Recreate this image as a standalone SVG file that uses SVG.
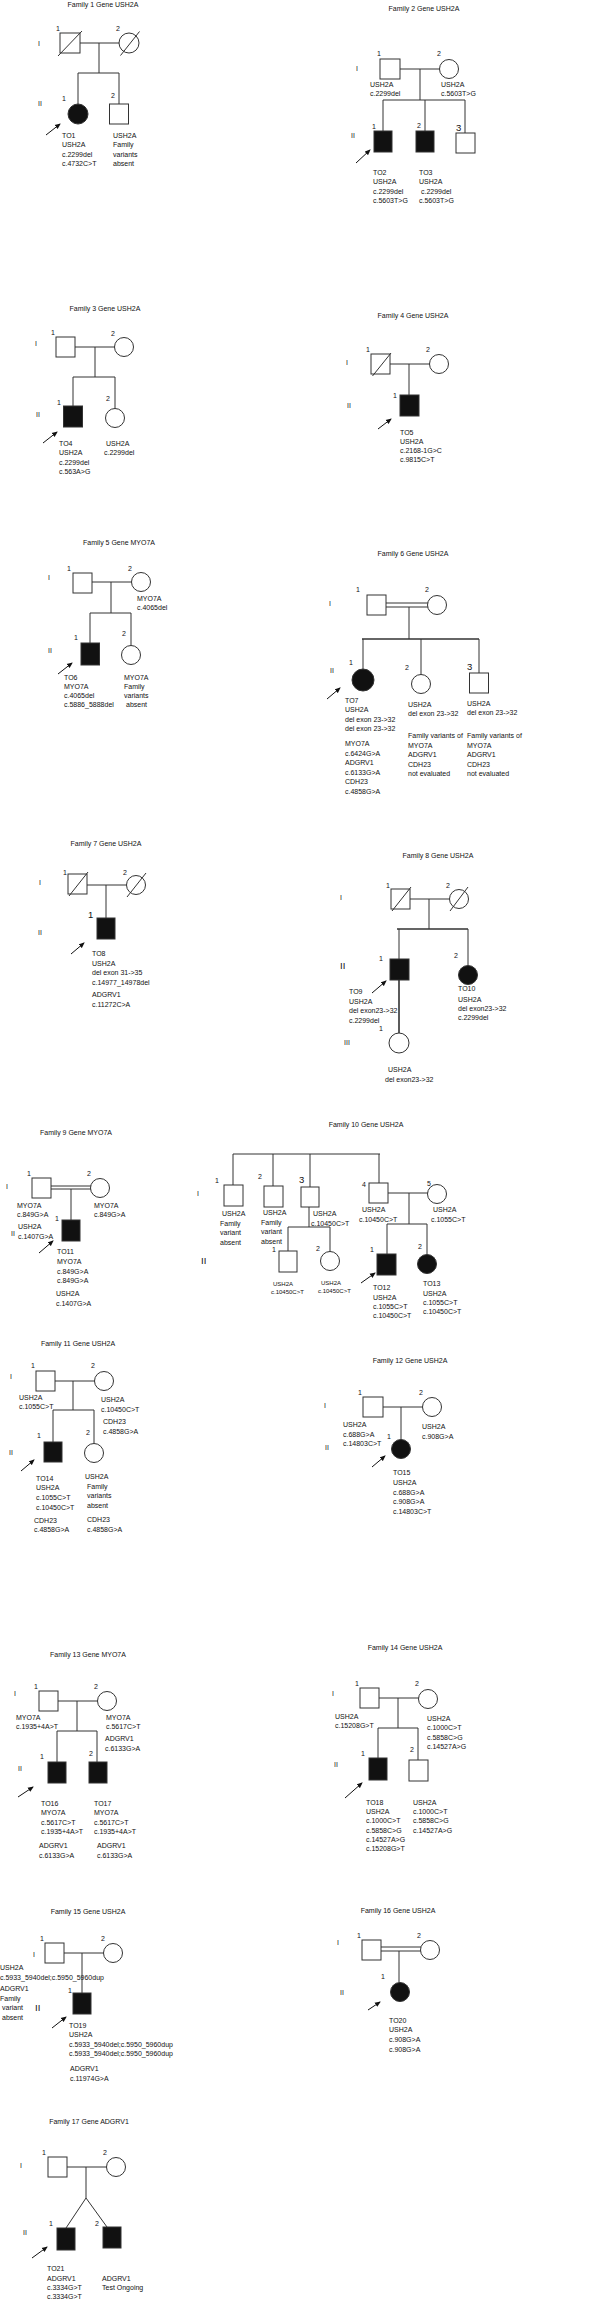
<svg xmlns="http://www.w3.org/2000/svg" width="589" height="2300" viewBox="0 0 589 2300">
<style>
.t{font-family:"Liberation Sans",Arial,sans-serif;font-size:7px;fill:#111}
.n{font-family:"Liberation Sans",Arial,sans-serif;font-size:7px;fill:#111}
.big{font-size:9.5px}
.ti{text-anchor:middle}
.ln{stroke:#333;stroke-width:1;fill:none}
.th{stroke:#333;stroke-width:1.6;fill:none}
.o{fill:#fff;stroke:#333;stroke-width:1}
.f{fill:#111;stroke:#333;stroke-width:1}
.ar{stroke:#111;stroke-width:1;marker-end:url(#ah)}
</style>
<defs>
<marker id="ah" markerWidth="6" markerHeight="6" refX="5" refY="3" orient="auto" markerUnits="userSpaceOnUse">
<path d="M0,0.5 L6,3 L0,5.5 z" fill="#111"/>
</marker>
</defs>
<rect width="589" height="2300" fill="#fff"/>

<g id="connectors">
<path class="ln" d="M80,43H120M99,43V73M78,73H119M78,73V104M119,73V104"/>
<path class="ln" d="M400,69H440M420,69V100M383,100H465M383,100V131M425,100V131M465,100V133"/>
<path class="ln" d="M75,347H115M95,347V377M73,377H115M73,377V406M115,377V408.5"/>
<path class="ln" d="M390,364H430M409,364V395"/>
<path class="ln" d="M92,582H132M111,582V613M90,613H131M90,613V643M131,613V645.5"/>
<path class="ln" d="M386,603H428M386,607H428M409,607V639M363,639V669M421,639V674.5M479,639V673"/>
<path class="th" d="M362,639H479"/>
<path class="ln" d="M87,885H127M106,885V918"/>
<path class="ln" d="M410,899H450M429,899V929M399,929V959M468,929V965.5"/>
<path class="th" d="M397,929H468M399,980V1033"/>
<path class="ln" d="M51,1186H91M51,1189H91M71,1189V1220"/>
<path class="ln" d="M233,1154H380M233,1154V1185M273,1154V1186M310,1154V1187M379,1154V1183M388,1193H428M409,1193V1224M387,1224H427M387,1224V1254M427,1224V1254.5M309,1207V1227M288,1227H330M288,1227V1251M330,1227V1251.5"/>
<path class="ln" d="M55,1381H95M73,1381V1410M53,1410H94M53,1410V1442M94,1410V1443.5"/>
<path class="ln" d="M383,1407H423M401,1407V1439.5"/>
<path class="ln" d="M58,1701H98M77,1701V1731M57,1731H97M57,1731V1762M97,1731V1762"/>
<path class="ln" d="M379,1698H419M398,1698V1728M378,1728H418M378,1728V1758M418,1728V1760"/>
<path class="ln" d="M64,1953H104M82,1953V1993"/>
<path class="ln" d="M381,1947H421M381,1951H421M399,1951V1982.5"/>
<path class="ln" d="M67,2167H107M86,2167V2198L66,2228M86,2198L107,2227"/>
<line class="ar" x1="46" y1="135" x2="60" y2="124"/>
<line class="ar" x1="356" y1="163" x2="370" y2="150"/>
<line class="ar" x1="43" y1="443" x2="57" y2="432"/>
<line class="ar" x1="378" y1="429" x2="391" y2="419"/>
<line class="ar" x1="58" y1="674" x2="72" y2="663"/>
<line class="ar" x1="327" y1="699" x2="340" y2="688"/>
<line class="ar" x1="71" y1="954" x2="84" y2="943"/>
<line class="ar" x1="372" y1="993" x2="386" y2="981"/>
<line class="ar" x1="39" y1="1253" x2="53" y2="1241"/>
<line class="ar" x1="361" y1="1283" x2="375" y2="1273"/>
<line class="ar" x1="21" y1="1471" x2="34" y2="1460"/>
<line class="ar" x1="372" y1="1467" x2="385" y2="1456"/>
<line class="ar" x1="18" y1="1797" x2="33" y2="1787"/>
<line class="ar" x1="345" y1="1798" x2="362" y2="1783"/>
<line class="ar" x1="52" y1="2028" x2="66" y2="2017"/>
<line class="ar" x1="368" y1="2010" x2="380" y2="2002"/>
<line class="ar" x1="32" y1="2258" x2="47" y2="2247"/>
</g>

<g id="family1">
<text class="t ti" x="103" y="7">Family  1 Gene USH2A</text>
<text class="t" x="38" y="45.5">I</text>
<text class="t" x="38" y="105.5">II</text>
<g id="f1-I1"><rect class="o" x="60" y="33" width="20" height="20"/><line class="ln" x1="58" y1="56" x2="82" y2="31"/><text class="n" x="56" y="30.5">1</text></g>
<g id="f1-I2"><circle class="o" cx="129" cy="43" r="10"/><line class="ln" x1="120.5" y1="55.5" x2="139.5" y2="31.5"/><text class="n" x="116" y="30.5">2</text></g>
<g id="f1-II1"><circle class="f" cx="78" cy="114" r="10"/><text class="n" x="62" y="100.5">1</text>
<text class="t"><tspan x="62" y="137.5">TO1</tspan><tspan x="62" y="147">USH2A</tspan><tspan x="62" y="156.5">c.2299del</tspan><tspan x="62" y="166">c.4732C&gt;T</tspan></text></g>
<g id="f1-II2"><rect class="o" x="109.5" y="104" width="19" height="20"/><text class="n" x="111" y="97.5">2</text>
<text class="t"><tspan x="113" y="137.5">USH2A</tspan><tspan x="113" y="147">Family</tspan><tspan x="113" y="156.5">variants</tspan><tspan x="113" y="166">absent</tspan></text></g>
</g>

<g id="family2">
<text class="t ti" x="424" y="11">Family  2 Gene  USH2A</text>
<text class="t" x="356" y="70.5">I</text>
<text class="t" x="351" y="137.5">II</text>
<g id="f2-I1"><rect class="o" x="380" y="59" width="20" height="20"/><text class="n" x="377" y="55.5">1</text>
<text class="t"><tspan x="370" y="86.5">USH2A</tspan><tspan x="370" y="96">c.2299del</tspan></text></g>
<g id="f2-I2"><circle class="o" cx="449" cy="69" r="9.5"/><text class="n" x="437" y="55.5">2</text>
<text class="t"><tspan x="441" y="86.5">USH2A</tspan><tspan x="441" y="96">c.5603T&gt;G</tspan></text></g>
<g id="f2-II1"><rect class="f" x="374" y="131" width="18" height="21"/><text class="n" x="372" y="128.5">1</text>
<text class="t"><tspan x="373" y="174.5">TO2</tspan><tspan x="373" y="184">USH2A</tspan><tspan x="373" y="193.5">c.2299del</tspan><tspan x="373" y="203">c.5603T&gt;G</tspan></text></g>
<g id="f2-II2"><rect class="f" x="416" y="131" width="18" height="21"/><text class="n" x="417" y="127.5">2</text>
<text class="t"><tspan x="419" y="174.5">TO3</tspan><tspan x="419" y="184">USH2A</tspan><tspan x="421" y="193.5">c.2299del</tspan><tspan x="419" y="203">c.5603T&gt;G</tspan></text></g>
<g id="f2-II3"><rect class="o" x="456" y="133" width="19" height="20"/><text class="n big" x="456" y="131">3</text></g>
</g>

<g id="family3">
<text class="t ti" x="105" y="310.5">Family  3  Gene USH2A</text>
<text class="t" x="35" y="345.5">I</text>
<text class="t" x="36" y="416.5">II</text>
<g id="f3-I1"><rect class="o" x="56" y="337" width="19" height="20"/><text class="n" x="51" y="334.5">1</text></g>
<g id="f3-I2"><circle class="o" cx="124" cy="347" r="9.5"/><text class="n" x="111" y="335.5">2</text></g>
<g id="f3-II1"><rect class="f" x="63.5" y="406" width="19" height="21"/><text class="n" x="57" y="404.5">1</text>
<text class="t"><tspan x="59" y="445.5">TO4</tspan><tspan x="59" y="455">USH2A</tspan><tspan x="59" y="464.5">c.2299del</tspan><tspan x="59" y="474">c.563A&gt;G</tspan></text></g>
<g id="f3-II2"><circle class="o" cx="115" cy="418" r="9.5"/><text class="n" x="106" y="400.5">2</text>
<text class="t"><tspan x="106" y="445.5">USH2A</tspan><tspan x="104" y="455">c.2299del</tspan></text></g>
</g>

<g id="family4">
<text class="t ti" x="413" y="317.5">Family 4  Gene USH2A</text>
<text class="t" x="346" y="364.5">I</text>
<text class="t" x="347" y="407.5">II</text>
<g id="f4-I1"><rect class="o" x="371" y="354" width="19" height="20"/><line class="ln" x1="372.5" y1="376" x2="391" y2="353"/><text class="n" x="366" y="351.5">1</text></g>
<g id="f4-I2"><circle class="o" cx="439" cy="364" r="9.5"/><text class="n" x="426" y="351.5">2</text></g>
<g id="f4-II1"><rect class="f" x="400" y="395" width="19" height="21"/><text class="n" x="393" y="397.5">1</text>
<text class="t"><tspan x="400" y="434.5">TO5</tspan><tspan x="400" y="443.5">USH2A</tspan><tspan x="400" y="452.5">c.2168-1G&gt;C</tspan><tspan x="400" y="461.5">c.9815C&gt;T</tspan></text></g>
</g>

<g id="family5">
<text class="t ti" x="119" y="544.5">Family  5 Gene MYO7A</text>
<text class="t" x="48" y="579.5">I</text>
<text class="t" x="48" y="652.5">II</text>
<g id="f5-I1"><rect class="o" x="73" y="573" width="19" height="20"/><text class="n" x="67" y="570.5">1</text></g>
<g id="f5-I2"><circle class="o" cx="141" cy="582" r="9.5"/><text class="n" x="128" y="570.5">2</text>
<text class="t"><tspan x="137" y="600.5">MYO7A</tspan><tspan x="137" y="609.5">c.4065del</tspan></text></g>
<g id="f5-II1"><rect class="f" x="81" y="643" width="18.5" height="22"/><text class="n" x="74" y="639.5">1</text>
<text class="t"><tspan x="64" y="679.5">TO6</tspan><tspan x="64" y="688.5">MYO7A</tspan><tspan x="64" y="697.5">c.4065del</tspan><tspan x="64" y="706.5">c.5886_5888del</tspan></text></g>
<g id="f5-II2"><circle class="o" cx="131" cy="655" r="9.5"/><text class="n" x="122" y="635.5">2</text>
<text class="t"><tspan x="124" y="679.5">MYO7A</tspan><tspan x="124" y="688.5">Family</tspan><tspan x="124" y="697.5">variants</tspan><tspan x="126" y="706.5">absent</tspan></text></g>
</g>

<g id="family6">
<text class="t ti" x="413" y="555.5">Family  6 Gene USH2A</text>
<text class="t" x="329" y="605.5">I</text>
<text class="t" x="330" y="672.5">II</text>
<g id="f6-I1"><rect class="o" x="367" y="595" width="19" height="20"/><text class="n" x="356" y="591.5">1</text></g>
<g id="f6-I2"><circle class="o" cx="437" cy="605" r="9.5"/><text class="n" x="425" y="591.5">2</text></g>
<g id="f6-II1"><circle class="f" cx="363" cy="680" r="11"/><text class="n" x="349" y="664.5">1</text>
<text class="t"><tspan x="345" y="702.5">TO7</tspan><tspan x="345" y="712">USH2A</tspan><tspan x="345" y="721.5">del exon 23-&gt;32</tspan><tspan x="345" y="731">del exon 23-&gt;32</tspan><tspan x="345" y="746">MYO7A</tspan><tspan x="345" y="755.5">c.6424G&gt;A</tspan><tspan x="345" y="765">ADGRV1</tspan><tspan x="345" y="774.5">c.6133G&gt;A</tspan><tspan x="345" y="784">CDH23</tspan><tspan x="345" y="793.5">c.4858G&gt;A</tspan></text></g>
<g id="f6-II2"><circle class="o" cx="421" cy="684" r="9.5"/><text class="n" x="405" y="669.5">2</text>
<text class="t"><tspan x="408" y="706.5">USH2A</tspan><tspan x="408" y="716">del exon 23-&gt;32</tspan><tspan x="408" y="738">Family variants of</tspan><tspan x="408" y="747.5">MYO7A</tspan><tspan x="408" y="757">ADGRV1</tspan><tspan x="408" y="766.5">CDH23</tspan><tspan x="408" y="776">not evaluated</tspan></text></g>
<g id="f6-II3"><rect class="o" x="469.5" y="673" width="19" height="20"/><text class="n big" x="467" y="670">3</text>
<text class="t"><tspan x="467" y="705.5">USH2A</tspan><tspan x="467" y="715">del exon 23-&gt;32</tspan><tspan x="467" y="738">Family variants of</tspan><tspan x="467" y="747.5">MYO7A</tspan><tspan x="467" y="757">ADGRV1</tspan><tspan x="467" y="766.5">CDH23</tspan><tspan x="467" y="776">not evaluated</tspan></text></g>
</g>

<g id="family7">
<text class="t ti" x="106" y="845.5">Family  7 Gene USH2A</text>
<text class="t" x="39" y="884.5">I</text>
<text class="t" x="38" y="934.5">II</text>
<g id="f7-I1"><rect class="o" x="68" y="874" width="19" height="20"/><line class="ln" x1="69" y1="896" x2="88" y2="872"/><text class="n" x="63" y="874.5">1</text></g>
<g id="f7-I2"><circle class="o" cx="136" cy="885" r="9.5"/><line class="ln" x1="127" y1="897" x2="146" y2="873"/><text class="n" x="123" y="874.5">2</text></g>
<g id="f7-II1"><rect class="f" x="97" y="918" width="18" height="21"/><text class="n big" x="88" y="918">1</text>
<text class="t"><tspan x="92" y="955.5">TO8</tspan><tspan x="92" y="965.5">USH2A</tspan><tspan x="92" y="975">del exon 31-&gt;35</tspan><tspan x="92" y="984.5">c.14977_14978del</tspan><tspan x="92" y="996.5">ADGRV1</tspan><tspan x="92" y="1006.5">c.11272C&gt;A</tspan></text></g>
</g>

<g id="family8">
<text class="t ti" x="438" y="857.5">Family 8 Gene USH2A</text>
<text class="t" x="340" y="899.5">I</text>
<text class="t big" x="340" y="968.5">II</text>
<text class="t" x="344" y="1044.5">III</text>
<g id="f8-I1"><rect class="o" x="391" y="889" width="19" height="20"/><line class="ln" x1="392" y1="911" x2="411" y2="887"/><text class="n" x="386" y="887.5">1</text></g>
<g id="f8-I2"><circle class="o" cx="459" cy="899" r="9.5"/><line class="ln" x1="450" y1="911" x2="468" y2="887"/><text class="n" x="446" y="887.5">2</text></g>
<g id="f8-II1"><rect class="f" x="390" y="959" width="19" height="21"/><text class="n" x="379" y="960.5">1</text>
<text class="t"><tspan x="349" y="993.5">TO9</tspan><tspan x="349" y="1003.5">USH2A</tspan><tspan x="349" y="1012.5">del exon23-&gt;32</tspan><tspan x="349" y="1022.5">c.2299del</tspan></text></g>
<g id="f8-II2"><circle class="f" cx="468" cy="975" r="9.5"/><text class="n" x="454" y="957.5">2</text>
<text class="t"><tspan x="458" y="990.5">TO10</tspan><tspan x="458" y="1001.5">USH2A</tspan><tspan x="458" y="1010.5">del exon23-&gt;32</tspan><tspan x="458" y="1019.5">c.2299del</tspan></text></g>
<g id="f8-III1"><circle class="o" cx="399" cy="1043" r="10"/><text class="n" x="379" y="1030.5">1</text>
<text class="t"><tspan x="388" y="1071.5">USH2A</tspan><tspan x="385" y="1081.5">del exon23-&gt;32</tspan></text></g>
</g>

<g id="family9">
<text class="t ti" x="76" y="1134.5">Family  9 Gene  MYO7A</text>
<text class="t" x="6" y="1188.5">I</text>
<text class="t" x="11" y="1235.5">II</text>
<g id="f9-I1"><rect class="o" x="32" y="1178" width="19" height="20"/><text class="n" x="27" y="1175.5">1</text>
<text class="t"><tspan x="17" y="1207.5">MYO7A</tspan><tspan x="17" y="1216.5">c.849G&gt;A</tspan></text></g>
<g id="f9-I2"><circle class="o" cx="100" cy="1188" r="9.5"/><text class="n" x="87" y="1175.5">2</text>
<text class="t"><tspan x="94" y="1207.5">MYO7A</tspan><tspan x="94" y="1216.5">c.849G&gt;A</tspan></text></g>
<g id="f9-II1"><rect class="f" x="62" y="1220" width="18" height="21"/><text class="n" x="55" y="1220.5">1</text>
<text class="t"><tspan x="18" y="1228.5">USH2A</tspan><tspan x="18" y="1238.5">c.1407G&gt;A</tspan></text>
<text class="t"><tspan x="57" y="1253.5">TO11</tspan><tspan x="57" y="1263.5">MYO7A</tspan><tspan x="57" y="1273.5">c.849G&gt;A</tspan><tspan x="57" y="1282.5">c.849G&gt;A</tspan><tspan x="56" y="1295.5">USH2A</tspan><tspan x="56" y="1305.5">c.1407G&gt;A</tspan></text></g>
</g>

<g id="family10">
<text class="t ti" x="366" y="1126.5">Family  10 Gene USH2A</text>
<text class="t" x="197" y="1195.5">I</text>
<text class="t big" x="201" y="1264">II</text>
<g id="f10-I1"><rect class="o" x="224" y="1185" width="19" height="21"/><text class="n" x="215" y="1182.5">1</text>
<text class="t"><tspan x="222" y="1215.5">USH2A</tspan><tspan x="220" y="1225.5">Family</tspan><tspan x="220" y="1234.5">variant</tspan><tspan x="220" y="1244.5">absent</tspan></text></g>
<g id="f10-I2"><rect class="o" x="264" y="1186" width="19" height="21"/><text class="n" x="258" y="1178.5">2</text>
<text class="t"><tspan x="263" y="1214.5">USH2A</tspan><tspan x="261" y="1224.5">Family</tspan><tspan x="261" y="1233.5">variant</tspan><tspan x="261" y="1243.5">absent</tspan></text></g>
<g id="f10-I3"><rect class="o" x="301" y="1187" width="18" height="20"/><text class="n big" x="299" y="1182.5">3</text>
<text class="t"><tspan x="313" y="1215.5">USH2A</tspan><tspan x="311" y="1225.5">c.10450C&gt;T</tspan></text></g>
<g id="f10-I4"><rect class="o" x="369" y="1183" width="19" height="20"/><text class="n" x="362" y="1186.5">4</text>
<text class="t"><tspan x="362" y="1211.5">USH2A</tspan><tspan x="359" y="1221.5">c.10450C&gt;T</tspan></text></g>
<g id="f10-I5"><circle class="o" cx="437" cy="1194" r="9.5"/><text class="n" x="427" y="1185.5">5</text>
<text class="t"><tspan x="433" y="1211.5">USH2A</tspan><tspan x="431" y="1221.5">c.1055C&gt;T</tspan></text></g>
<g id="f10-II1"><rect class="o" x="279" y="1251" width="18" height="21"/><text class="n" x="272" y="1251.5">1</text>
<text class="t" style="font-size:6px"><tspan x="273" y="1285.5">USH2A</tspan><tspan x="271" y="1293.5">c.10450C&gt;T</tspan></text></g>
<g id="f10-II2"><circle class="o" cx="330" cy="1261" r="9.5"/><text class="n" x="316" y="1250.5">2</text>
<text class="t" style="font-size:6px"><tspan x="321" y="1284.5">USH2A</tspan><tspan x="318" y="1292.5">c.10450C&gt;T</tspan></text></g>
<g id="f10-II3"><rect class="f" x="377" y="1254" width="19" height="21"/><text class="n" x="370" y="1251.5">1</text>
<text class="t"><tspan x="373" y="1289.5">TO12</tspan><tspan x="373" y="1299.5">USH2A</tspan><tspan x="373" y="1308.5">c.1055C&gt;T</tspan><tspan x="373" y="1317.5">c.10450C&gt;T</tspan></text></g>
<g id="f10-II4"><circle class="f" cx="427" cy="1264" r="9.5"/><text class="n" x="418" y="1248.5">2</text>
<text class="t"><tspan x="423" y="1285.5">TO13</tspan><tspan x="423" y="1295.5">USH2A</tspan><tspan x="423" y="1304.5">c.1055C&gt;T</tspan><tspan x="423" y="1313.5">c.10450C&gt;T</tspan></text></g>
</g>

<g id="family11">
<text class="t ti" x="78" y="1345.5">Family  11  Gene USH2A</text>
<text class="t" x="10" y="1378.5">I</text>
<text class="t" x="9" y="1454.5">II</text>
<g id="f11-I1"><rect class="o" x="36" y="1371" width="19" height="20"/><text class="n" x="31" y="1367.5">1</text>
<text class="t"><tspan x="19" y="1399.5">USH2A</tspan><tspan x="19" y="1408.5">c.1055C&gt;T</tspan></text></g>
<g id="f11-I2"><circle class="o" cx="104" cy="1381" r="9.5"/><text class="n" x="91" y="1367.5">2</text>
<text class="t"><tspan x="101" y="1401.5">USH2A</tspan><tspan x="101" y="1411.5">c.10450C&gt;T</tspan><tspan x="103" y="1423.5">CDH23</tspan><tspan x="103" y="1433.5">c.4858G&gt;A</tspan></text></g>
<g id="f11-II1"><rect class="f" x="44" y="1442" width="18" height="20"/><text class="n" x="37" y="1437.5">1</text>
<text class="t"><tspan x="36" y="1480.5">TO14</tspan><tspan x="36" y="1489.5">USH2A</tspan><tspan x="36" y="1499.5">c.1055C&gt;T</tspan><tspan x="36" y="1509.5">c.10450C&gt;T</tspan><tspan x="34" y="1522.5">CDH23</tspan><tspan x="34" y="1531.5">c.4858G&gt;A</tspan></text></g>
<g id="f11-II2"><circle class="o" cx="94" cy="1453" r="9.5"/><text class="n" x="86" y="1434.5">2</text>
<text class="t"><tspan x="85" y="1478.5">USH2A</tspan><tspan x="87" y="1488.5">Family</tspan><tspan x="87" y="1497.5">variants</tspan><tspan x="87" y="1507.5">absent</tspan><tspan x="87" y="1521.5">CDH23</tspan><tspan x="87" y="1531.5">c.4858G&gt;A</tspan></text></g>
</g>

<g id="family12">
<text class="t ti" x="410" y="1362.5">Family  12 Gene USH2A</text>
<text class="t" x="324" y="1407.5">I</text>
<text class="t" x="325" y="1449.5">II</text>
<g id="f12-I1"><rect class="o" x="363" y="1397" width="20" height="20"/><text class="n" x="358" y="1394.5">1</text>
<text class="t"><tspan x="343" y="1426.5">USH2A</tspan><tspan x="343" y="1436.5">c.688G&gt;A</tspan><tspan x="343" y="1445.5">c.14803C&gt;T</tspan></text></g>
<g id="f12-I2"><circle class="o" cx="432" cy="1407" r="9.5"/><text class="n" x="419" y="1394.5">2</text>
<text class="t"><tspan x="422" y="1428.5">USH2A</tspan><tspan x="422" y="1438.5">c.908G&gt;A</tspan></text></g>
<g id="f12-II1"><circle class="f" cx="401" cy="1449" r="9.5"/><text class="n" x="387" y="1438.5">1</text>
<text class="t"><tspan x="393" y="1474.5">TO15</tspan><tspan x="393" y="1484.5">USH2A</tspan><tspan x="393" y="1494.5">c.688G&gt;A</tspan><tspan x="393" y="1503.5">c.908G&gt;A</tspan><tspan x="393" y="1513.5">c.14803C&gt;T</tspan></text></g>
</g>

<g id="family13">
<text class="t ti" x="88" y="1656.5">Family  13 Gene MYO7A</text>
<text class="t" x="14" y="1695.5">I</text>
<text class="t" x="18" y="1770.5">II</text>
<g id="f13-I1"><rect class="o" x="39" y="1691" width="19" height="20"/><text class="n" x="34" y="1688.5">1</text>
<text class="t"><tspan x="16" y="1719.5">MYO7A</tspan><tspan x="16" y="1728.5">c.1935+4A&gt;T</tspan></text></g>
<g id="f13-I2"><circle class="o" cx="107" cy="1701" r="9.5"/><text class="n" x="94" y="1688.5">2</text>
<text class="t"><tspan x="106" y="1719.5">MYO7A</tspan><tspan x="106" y="1728.5">c.5617C&gt;T</tspan><tspan x="105" y="1740.5">ADGRV1</tspan><tspan x="105" y="1750.5">c.6133G&gt;A</tspan></text></g>
<g id="f13-II1"><rect class="f" x="48" y="1762" width="18" height="21"/><text class="n" x="40" y="1758.5">1</text>
<text class="t"><tspan x="41" y="1805.5">TO16</tspan><tspan x="41" y="1814.5">MYO7A</tspan><tspan x="41" y="1824.5">c.5617C&gt;T</tspan><tspan x="41" y="1834">c.1935+4A&gt;T</tspan><tspan x="39" y="1847.5">ADGRV1</tspan><tspan x="39" y="1857.5">c.6133G&gt;A</tspan></text></g>
<g id="f13-II2"><rect class="f" x="89" y="1762" width="18" height="21"/><text class="n" x="89" y="1755.5">2</text>
<text class="t"><tspan x="94" y="1805.5">TO17</tspan><tspan x="94" y="1814.5">MYO7A</tspan><tspan x="94" y="1824.5">c.5617C&gt;T</tspan><tspan x="94" y="1834">c.1935+4A&gt;T</tspan><tspan x="97" y="1847.5">ADGRV1</tspan><tspan x="97" y="1857.5">c.6133G&gt;A</tspan></text></g>
</g>

<g id="family14">
<text class="t ti" x="405" y="1649.5">Family 14  Gene USH2A</text>
<text class="t" x="332" y="1695.5">I</text>
<text class="t" x="334" y="1766.5">II</text>
<g id="f14-I1"><rect class="o" x="360" y="1688" width="19" height="20"/><text class="n" x="355" y="1685.5">1</text>
<text class="t"><tspan x="335" y="1718.5">USH2A</tspan><tspan x="335" y="1727.5">c.15208G&gt;T</tspan></text></g>
<g id="f14-I2"><circle class="o" cx="428" cy="1699" r="9.5"/><text class="n" x="415" y="1685.5">2</text>
<text class="t"><tspan x="427" y="1720.5">USH2A</tspan><tspan x="427" y="1729.5">c.1000C&gt;T</tspan><tspan x="427" y="1739.5">c.5858C&gt;G</tspan><tspan x="427" y="1748.5">c.14527A&gt;G</tspan></text></g>
<g id="f14-II1"><rect class="f" x="369" y="1758" width="18" height="22"/><text class="n" x="361" y="1755.5">1</text>
<text class="t"><tspan x="366" y="1804.5">TO18</tspan><tspan x="366" y="1813.5">USH2A</tspan><tspan x="366" y="1822.5">c.1000C&gt;T</tspan><tspan x="366" y="1832.5">c.5858C&gt;G</tspan><tspan x="366" y="1841.5">c.14527A&gt;G</tspan><tspan x="366" y="1850.5">c.15208G&gt;T</tspan></text></g>
<g id="f14-II2"><rect class="o" x="409" y="1760" width="19" height="21"/><text class="n" x="410" y="1751.5">2</text>
<text class="t"><tspan x="413" y="1804.5">USH2A</tspan><tspan x="413" y="1813.5">c.1000C&gt;T</tspan><tspan x="413" y="1823">c.5858C&gt;G</tspan><tspan x="413" y="1833">c.14527A&gt;G</tspan></text></g>
</g>

<g id="family15">
<text class="t ti" x="88" y="1913.5">Family  15 Gene USH2A</text>
<text class="t" x="33" y="1956.5">I</text>
<text class="t big" x="35" y="2011">II</text>
<g id="f15-I1"><rect class="o" x="45" y="1943" width="19" height="20"/><text class="n" x="40" y="1940.5">1</text>
<text class="t"><tspan x="0" y="1969.5">USH2A</tspan><tspan x="0" y="1979.5">c.5933_5940del;c.5950_5960dup</tspan><tspan x="0" y="1990.5">ADGRV1</tspan><tspan x="0" y="2000.5">Family</tspan><tspan x="2" y="2009.5">variant</tspan><tspan x="2" y="2019.5">absent</tspan></text></g>
<g id="f15-I2"><circle class="o" cx="113" cy="1953" r="9.5"/><text class="n" x="101" y="1940.5">2</text></g>
<g id="f15-II1"><rect class="f" x="73" y="1993" width="18" height="21"/><text class="n" x="68" y="1992.5">1</text>
<text class="t"><tspan x="69" y="2027.5">TO19</tspan><tspan x="69" y="2036.5">USH2A</tspan><tspan x="69" y="2046.5">c.5933_5940del;c.5950_5960dup</tspan><tspan x="69" y="2055.5">c.5933_5940del;c.5950_5960dup</tspan><tspan x="70" y="2070.5">ADGRV1</tspan><tspan x="70" y="2080.5">c.11974G&gt;A</tspan></text></g>
</g>

<g id="family16">
<text class="t ti" x="398" y="1912.5">Family 16 Gene USH2A</text>
<text class="t" x="337" y="1944.5">I</text>
<text class="t" x="340" y="1994.5">II</text>
<g id="f16-I1"><rect class="o" x="362" y="1940" width="19" height="20"/><text class="n" x="357" y="1937.5">1</text></g>
<g id="f16-I2"><circle class="o" cx="430" cy="1950" r="9.5"/><text class="n" x="417" y="1937.5">2</text></g>
<g id="f16-II1"><circle class="f" cx="400" cy="1992" r="9.5"/><text class="n" x="381" y="1978.5">1</text>
<text class="t"><tspan x="389" y="2022.5">TO20</tspan><tspan x="389" y="2031.5">USH2A</tspan><tspan x="389" y="2041.5">c.908G&gt;A</tspan><tspan x="389" y="2051.5">c.908G&gt;A</tspan></text></g>
</g>

<g id="family17">
<text class="t ti" x="89" y="2123.5">Family 17 Gene ADGRV1</text>
<text class="t" x="20" y="2167.5">I</text>
<text class="t" x="23" y="2234.5">II</text>
<g id="f17-I1"><rect class="o" x="48" y="2157" width="19" height="20"/><text class="n" x="42" y="2154.5">1</text></g>
<g id="f17-I2"><circle class="o" cx="116" cy="2167" r="9.5"/><text class="n" x="103" y="2154.5">2</text></g>
<g id="f17-II1"><rect class="f" x="57" y="2228" width="18" height="22"/><text class="n" x="49" y="2225.5">1</text>
<text class="t"><tspan x="47" y="2270.5">TO21</tspan><tspan x="47" y="2280.5">ADGRV1</tspan><tspan x="47" y="2290">c.3334G&gt;T</tspan><tspan x="47" y="2299">c.3334G&gt;T</tspan></text></g>
<g id="f17-II2"><rect class="f" x="103" y="2227" width="18" height="21"/><text class="n" x="95" y="2225.5">2</text>
<text class="t"><tspan x="102" y="2280.5">ADGRV1</tspan><tspan x="102" y="2289.5">Test Ongoing</tspan></text></g>
</g>
</svg>
